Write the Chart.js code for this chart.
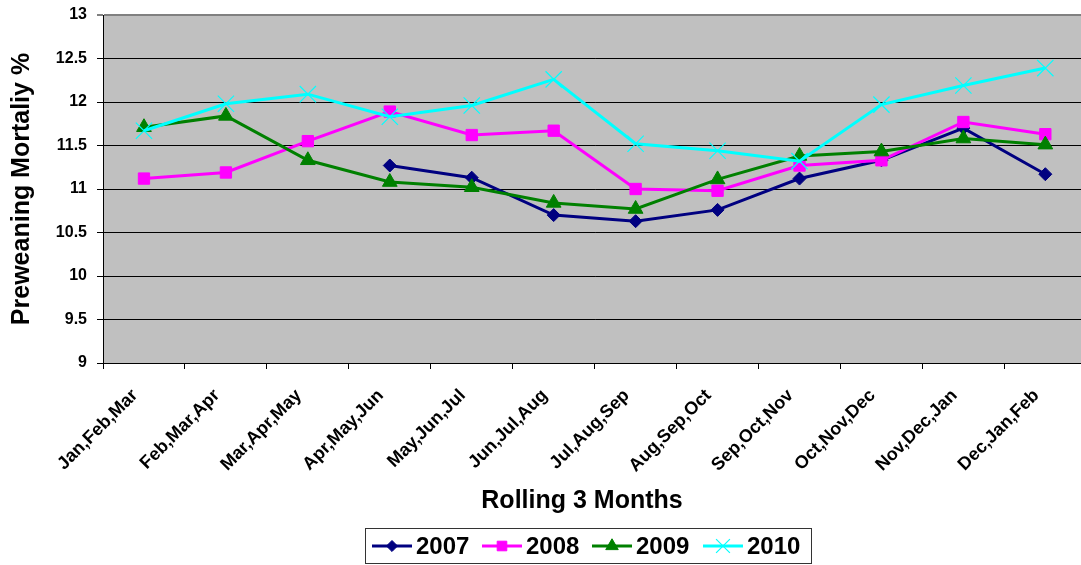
<!DOCTYPE html>
<html><head><meta charset="utf-8">
<script src="https://cdn.jsdelivr.net/npm/chart.js@4/dist/chart.umd.min.js"></script>
<style>html,body{margin:0;padding:0;background:#fff;overflow:hidden;width:1081px;height:565px}canvas{display:block}</style>
</head><body><canvas id="c" width="1099" height="565"></canvas>
<script>
const categories = ["Jan,Feb,Mar","Feb,Mar,Apr","Mar,Apr,May","Apr,May,Jun","May,Jun,Jul","Jun,Jul,Aug","Jul,Aug,Sep","Aug,Sep,Oct","Sep,Oct,Nov","Oct,Nov,Dec","Nov,Dec,Jan","Dec,Jan,Feb"];
const seriesNames = ["2007","2008","2009","2010"];
const values2007 = [null,null,null,11.27,11.13,10.70,10.63,10.76,11.12,11.33,11.70,11.17];
const values2008 = [11.12,11.19,11.55,11.89,11.62,11.67,11.00,10.98,11.27,11.33,11.77,11.63];
const values2009 = [11.71,11.84,11.33,11.08,11.02,10.84,10.77,11.11,11.38,11.43,11.58,11.51];
const values2010 = [11.67,11.98,12.09,11.83,11.96,12.26,11.52,11.44,11.32,11.97,12.19,12.39];
const yMin = 9, yMax = 13, yStep = 0.5;
const yTitle = "Preweaning Mortaliy %";
const xTitle = "Rolling 3 Months";

const FONT = "'Liberation Sans', Arial, sans-serif";
const styles = [
  {color:'#000080', pointStyle:'rectRot', radius:6.5, bw:1, order:4},
  {color:'#FF00FF', pointStyle:'rect', radius:8, bw:1, order:3},
  {color:'#008000', pointStyle:'triangle', radius:8.5, bw:1, order:2},
  {color:'#00FFFF', pointStyle:'crossRot', radius:11.5, bw:1.2, order:1}
];
const allValues = [values2007, values2008, values2009, values2010];
const datasets = seriesNames.map((n,i)=>({
  label:n, data:allValues[i], borderColor:styles[i].color, backgroundColor:styles[i].color,
  pointBackgroundColor:styles[i].color, pointBorderColor:styles[i].color,
  pointStyle:styles[i].pointStyle, pointRadius:styles[i].radius, pointHoverRadius:styles[i].radius,
  pointBorderWidth:styles[i].bw, borderWidth:3, tension:0, spanGaps:false, order:styles[i].order
}));

const plotBg = {
  id:'plotBg',
  beforeDraw(chart){
    const {ctx, chartArea:a} = chart;
    ctx.save(); ctx.fillStyle='#C0C0C0';
    ctx.fillRect(a.left, a.top, a.right-a.left, a.bottom-a.top);
    ctx.restore();
  },
  afterDraw(chart){
    const ctx = chart.ctx;
    ctx.save();
    // x axis title
    ctx.fillStyle='#000'; ctx.font="bold 25px "+FONT; ctx.textAlign='center'; ctx.textBaseline='middle';
    ctx.fillText(xTitle, 582, 501);
    // legend
    ctx.strokeStyle='#333'; ctx.lineWidth=1;
    ctx.strokeRect(365.5, 528.5, 446, 35);
    const starts=[372,482,592,703];
    const cy=546;
    chart.data.datasets.forEach((ds,i)=>{
      const x0=starts[i];
      ctx.strokeStyle=ds.borderColor; ctx.lineWidth=3;
      ctx.beginPath(); ctx.moveTo(x0,cy); ctx.lineTo(x0+40,cy); ctx.stroke();
      ctx.fillStyle=ds.pointBackgroundColor; ctx.strokeStyle=ds.pointBorderColor; ctx.lineWidth=ds.pointBorderWidth;
      Chart.helpers.drawPoint(ctx,{pointStyle:ds.pointStyle, radius:ds.pointRadius*0.85, rotation:0, borderWidth:ds.pointBorderWidth}, x0+20, cy);
      ctx.fillStyle='#000'; ctx.font="bold 24px "+FONT; ctx.textBaseline='middle'; ctx.textAlign='left';
      ctx.fillText(ds.label, x0+44, cy+1);
    });
    ctx.restore();
  }
};

new Chart(document.getElementById('c'), {
  type:'line',
  data:{labels:categories, datasets},
  plugins:[plotBg],
  options:{
    responsive:false, animation:false, devicePixelRatio:1,
    layout:{padding:{top:15,left:0,right:0,bottom:47}},
    plugins:{legend:{display:false}, tooltip:{enabled:false}},
    scales:{
      x:{
        offset:true,
        grid:{drawOnChartArea:false, drawTicks:true, tickLength:6, color:'#000', offset:true},
        border:{color:'#000', width:1},
        ticks:{autoSkip:false, maxRotation:45, minRotation:45, color:'#000', padding:16, labelOffset:-9, font:{family:FONT, size:18, weight:'bold'}},
        title:{display:false},
        afterFit(s){ s.height=155; s.paddingLeft=0; s.paddingRight=0; }
      },
      y:{
        min:yMin, max:yMax,
        ticks:{stepSize:yStep, color:'#000', padding:10, callback:(v)=>String(v), font:{family:FONT, size:16, weight:'bold'}},
        grid:{color:(c)=> c.tick && c.tick.value===yMax ? '#808080' : '#000', lineWidth:(c)=> c.tick && c.tick.value===yMax ? 2 : 1, tickLength:6},
        border:{color:'#000', width:1},
        title:{display:true, text:yTitle, color:'#000', padding:{top:7,bottom:0}, font:{family:FONT, size:25, weight:'bold'}},
        afterFit(s){ s.width=103; s.paddingTop=0; s.paddingBottom=0; }
      }
    }
  }
});
</script>
</body></html>
